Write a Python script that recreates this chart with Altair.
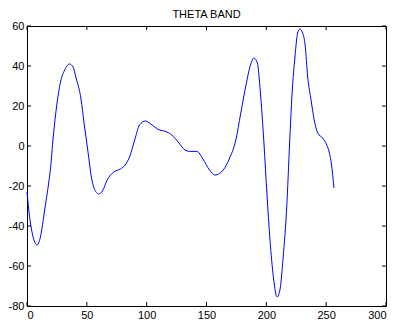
import altair as alt
import pandas as pd

# Signal samples
xs = [0, 3, 8.5, 11, 15, 18, 19.5, 22, 25, 28, 31.5, 35.5, 38.5, 41, 45, 48, 51, 53.5, 56, 60,
      63, 67, 72.5, 78, 82, 86, 90, 94, 99, 103.5, 109, 117, 121, 127, 132, 136, 142, 147,
      152.5, 157, 161, 164, 169, 174.5, 178.5, 183, 187, 189.5, 192.5, 195, 198, 200.5, 203,
      206, 209, 211.5, 214, 217, 219.5, 221.5, 224, 226, 228, 230, 232.5, 234.5, 237.5, 240,
      243, 247, 250.5, 252.5, 254.5, 256.5]
ys = [-23, -39, -49.5, -46, -31, -19, -12, 5, 21, 32, 38, 41, 39.5, 34, 24, 10, -3, -14.5, -21, -24,
      -22.5, -17, -13, -11.5, -9.5, -5, 3, 10.5, 12.5, 11, 8.5, 7, 5.5, 1.5, -2, -2.7, -2.7, -6.5,
      -12, -14.5, -13.7, -12, -6.5, 3, 16, 30.5, 41, 44, 41.5, 27, 1.5, -24, -46.5,
      -66, -75.5, -71.5, -56, -31, 2, 26, 45, 56, 58.5, 57, 50, 35, 22.5, 13,
      6.5, 4, 0.5, -3, -9.5, -21]

xticks = [0, 50, 100, 150, 200, 250, 300]
yticks = [-80, -60, -40, -20, 0, 20, 40, 60]
title_text = "THETA BAND"

W, H = 359, 280
FONT = "Liberation Sans"

df = pd.DataFrame({"x": xs, "y": ys})
xt = pd.DataFrame({"t": xticks})
yt = pd.DataFrame({"t": yticks})

xscale = alt.Scale(domain=[0, 300], nice=False, zero=False)
yscale = alt.Scale(domain=[-80, 60], nice=False, zero=False)

xaxis = alt.Axis(values=xticks, tickSize=0, labelPadding=3, grid=False,
                 domain=False, labelFont=FONT, labelFontSize=11, labelColor="black",
                 labelOverlap=False, labelExpr="'' + datum.value")
yaxis = alt.Axis(values=yticks, tickSize=0, labelPadding=3, grid=False,
                 domain=False, labelFont=FONT, labelFontSize=11, labelColor="black",
                 labelOverlap=False, labelExpr="'' + datum.value")

line = alt.Chart(df).mark_line(color="#0000ff", strokeWidth=1, interpolate="monotone").encode(
    x=alt.X("x:Q", scale=xscale, title=None, axis=xaxis),
    y=alt.Y("y:Q", scale=yscale, title=None, axis=yaxis),
)

tick_len = 4
bot = alt.Chart(xt).mark_rule(color="black", strokeWidth=1).encode(
    x=alt.X("t:Q", scale=xscale, title=None, axis=xaxis),
    y=alt.value(H), y2=alt.value(H - tick_len))
top = alt.Chart(xt).mark_rule(color="black", strokeWidth=1).encode(
    x=alt.X("t:Q", scale=xscale, title=None, axis=xaxis),
    y=alt.value(0), y2=alt.value(tick_len))
left = alt.Chart(yt).mark_rule(color="black", strokeWidth=1).encode(
    y=alt.Y("t:Q", scale=yscale, title=None, axis=yaxis),
    x=alt.value(0), x2=alt.value(tick_len))
right = alt.Chart(yt).mark_rule(color="black", strokeWidth=1).encode(
    y=alt.Y("t:Q", scale=yscale, title=None, axis=yaxis),
    x=alt.value(W), x2=alt.value(W - tick_len))

title = alt.Chart(pd.DataFrame({"t": [title_text]})).mark_text(
    font=FONT, fontSize=11, color="black", align="center", baseline="alphabetic"
).encode(text="t:N", x=alt.value(W / 2), y=alt.value(-8))

chart = alt.layer(line, bot, top, left, right, title).properties(
    width=W, height=H,
    background="white",
    autosize=alt.AutoSizeParams(type="none"),
    padding={"left": 19, "top": 18, "right": 9, "bottom": 13},
).configure_view(stroke="black", strokeWidth=1)

chart.save("out.html", embed_options={"renderer": "svg", "actions": False})
